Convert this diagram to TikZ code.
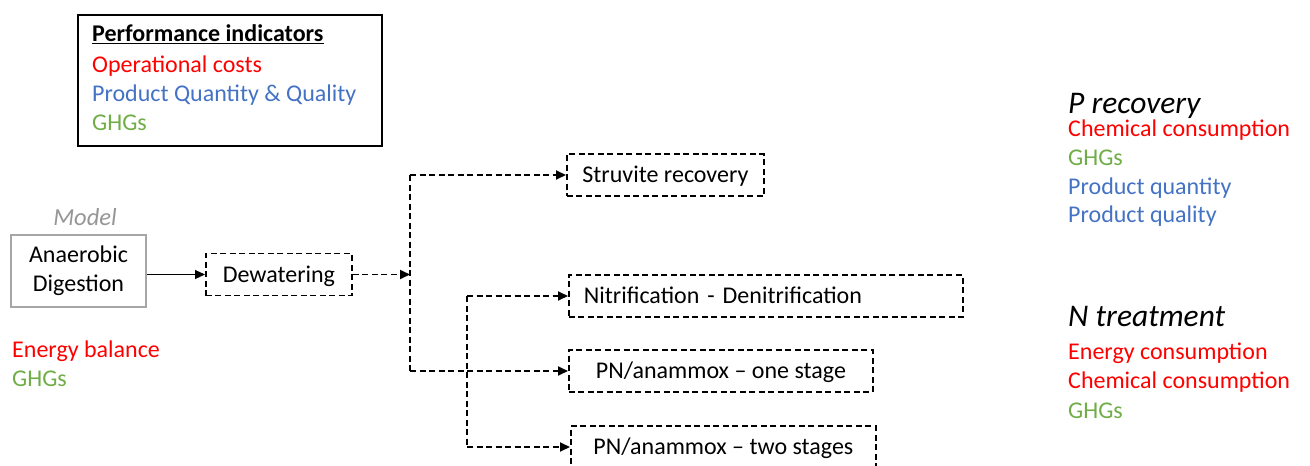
\documentclass[tikz,border=0pt]{standalone}
\usepackage{fontspec}
\setmainfont{Carlito}
\usetikzlibrary{arrows.meta}
\definecolor{costred}{HTML}{FF0000}
\definecolor{prodblue}{HTML}{4472C4}
\definecolor{ghggreen}{HTML}{70AD47}
\definecolor{modelgray}{HTML}{969696}
\definecolor{framegray}{HTML}{A6A6A6}
\tikzset{
  txt/.style={inner sep=0pt, anchor=base west},
  heading/.style={txt, font=\fontsize{31.5}{36}\selectfont\itshape},
  dashbox/.style={draw, line width=1.8pt, dash pattern=on 6pt off 3.5pt,
    minimum height=42pt, text height=15.5pt, text depth=0pt,
    inner ysep=0pt, anchor=west},
  flowline/.style={line width=1.8pt, dash pattern=on 6pt off 3.5pt},
  flow/.style={flowline, -{Triangle[length=10pt,width=9pt]}},
}
\begin{document}
\begin{tikzpicture}[x=1pt, y=-1pt, font=\fontsize{24}{29}\selectfont]
\useasboundingbox (0,0) rectangle (1310,466);
\clip (0,0) rectangle (1310,466);

% legend of indicators
\node[draw, line width=1.8pt, minimum width=304pt, minimum height=131pt, inner sep=0pt]
  (perf) at (230,80.5) {};
\node[txt] (perfhead) at (92,41.5) {\underline{\textbf{Performance indicators}}};
\node[txt, text=costred] (perfcost) at (92,72.5) {Operational costs};
\node[txt, text=prodblue] (perfprod) at (92,101) {Product Quantity \& Quality};
\node[txt, text=ghggreen] (perfghg) at (92,130.5) {GHGs};

% modelled unit
\node[inner sep=0pt, anchor=base, font=\fontsize{24.5}{29}\selectfont\itshape, text=modelgray]
  (model) at (85,225) {Model};
\node[draw=framegray, line width=2.2pt, minimum width=135pt, minimum height=72pt,
  align=center, inner sep=0pt] (ad) at (78.5,271) {\raisebox{-2pt}{Anaerobic}\\\raisebox{-2pt}{Digestion}};
\node[txt, text=costred] (adenergy) at (12,357) {Energy balance};
\node[txt, text=ghggreen] (adghg) at (12,386) {GHGs};

% treatment chain
\node[dashbox, minimum width=146pt, align=center] (dew) at (205,274.5) {Dewatering};
\node[dashbox, minimum width=197pt, align=center] (struv) at (566,175) {Struvite recovery};
\node[dashbox, inner xsep=15pt, text width=364pt, align=left] (nitri) at (568,296) {Nitrification - Denitrification};
\node[dashbox, minimum width=304pt, align=center] (pn1) at (568,371) {PN/anammox -- one stage};
\node[dashbox, minimum width=305pt, align=center] (pn2) at (570,447) {PN/anammox -- two stages};

\coordinate (split) at (410,274.5);
\coordinate (ptop) at (410,175);
\coordinate (pbot) at (410,371);
\coordinate (ntop) at (467,296);
\coordinate (nbot) at (467,447);

\draw[line width=1.1pt, -{Triangle[length=10pt,width=9pt]}] (ad.east |- dew.west) -- (dew.west);
\draw[flow] (dew.east) -- (split);
\draw[flowline] (ptop) -- (pbot);
\draw[flow] (ptop) -- (struv.west);
\draw[flow] (pbot) -- (pn1.west);
\draw[flowline] (ntop) -- (nbot);
\draw[flow] (ntop) -- (nitri.west);
\draw[flow] (nbot) -- (pn2.west);

% indicators per stage
\node[heading] (phead) at (1068,113) {P recovery};
\node[txt, text=costred] (pchem) at (1068,136) {Chemical consumption};
\node[txt, text=ghggreen] (pghg) at (1068,165) {GHGs};
\node[txt, text=prodblue] (pqty) at (1068,194) {Product quantity};
\node[txt, text=prodblue] (pqual) at (1068,222.5) {Product quality};

\node[heading] (nhead) at (1068,326) {N treatment};
\node[txt, text=costred] (nenergy) at (1068,359) {Energy consumption};
\node[txt, text=costred] (nchem) at (1068,388.5) {Chemical consumption};
\node[txt, text=ghggreen] (nghg) at (1068,418) {GHGs};
\end{tikzpicture}
\end{document}
